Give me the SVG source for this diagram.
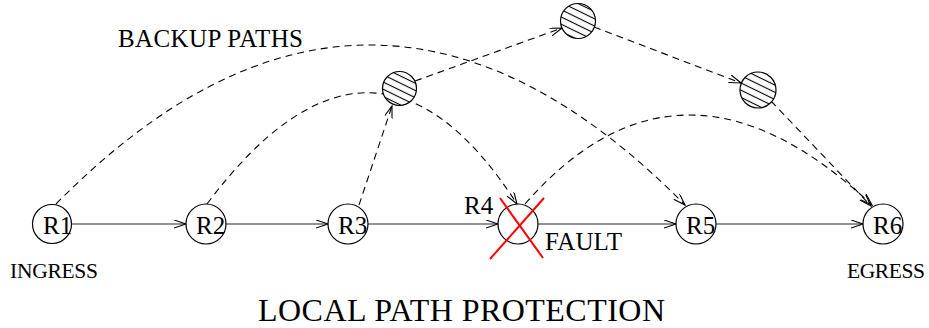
<svg xmlns="http://www.w3.org/2000/svg" width="929" height="328" viewBox="0 0 929 328">
<style>
.node{fill:#fff;stroke:#000;stroke-width:1.2}
.lbl{font-family:"Liberation Serif","Times New Roman",serif;fill:#000}
.solid{fill:none;stroke:#1e2a36;stroke-width:1.2;marker-end:url(#arr)}
.dash{fill:none;stroke:#000;stroke-width:1.1;stroke-dasharray:7 5;marker-end:url(#arr)}
.fault{stroke:#ff0000;stroke-width:2}
</style>
<defs>
<marker id="arr" markerUnits="userSpaceOnUse" markerWidth="14" markerHeight="10" refX="12" refY="4" orient="auto">
<path d="M0,0 L12,4 L0,8" fill="none" stroke="#000" stroke-width="1.1"/>
</marker>
<pattern id="hatch" patternUnits="userSpaceOnUse" width="8" height="6.5" patternTransform="rotate(26)">
<rect width="8" height="6.5" fill="#fff"/>
<line x1="0" y1="3.25" x2="8" y2="3.25" stroke="#000" stroke-width="1.1"/>
</pattern>
</defs>
<rect width="929" height="328" fill="#fff"/>
<g id="connectors">
<line class="solid" x1="71" y1="224" x2="186" y2="224"/>
<line class="solid" x1="226" y1="224" x2="328" y2="224"/>
<line class="solid" x1="368" y1="224" x2="498" y2="224"/>
<line class="solid" x1="538" y1="224" x2="676" y2="224"/>
<line class="solid" x1="716" y1="224" x2="863" y2="224"/>
<path class="dash" d="M56,204 Q370,-114.5 685,205"/>
<path class="dash" d="M207,204 Q373.5,-18.5 517,204"/>
<path class="dash" d="M525,204 Q681,25.5 872,205"/>
<line class="dash" x1="359" y1="205" x2="392" y2="106"/>
<line class="dash" x1="415" y1="81" x2="562" y2="28"/>
<line class="dash" x1="594" y1="27" x2="741" y2="83"/>
<line class="dash" x1="771" y1="101" x2="871" y2="206"/>
</g>
<g id="H1"><circle class="node" cx="399.5" cy="88.5" r="17" style="fill:url(#hatch)"/></g>
<g id="H2"><circle class="node" cx="578" cy="21" r="17.5" style="fill:url(#hatch)"/></g>
<g id="H3"><circle class="node" cx="758" cy="90" r="18" style="fill:url(#hatch)"/></g>
<g id="R1"><circle class="node" cx="52" cy="224" r="19.5"/><text class="lbl" x="43" y="233.5" font-size="25">R1</text></g>
<g id="R2"><circle class="node" cx="206" cy="224" r="20"/><text class="lbl" x="196" y="233.5" font-size="25">R2</text></g>
<g id="R3"><circle class="node" cx="348" cy="224" r="20"/><text class="lbl" x="338" y="233.5" font-size="25">R3</text></g>
<g id="R4"><circle class="node" cx="518" cy="224" r="20"/><text class="lbl" x="464" y="214" font-size="25">R4</text>
<line class="fault" x1="500" y1="198" x2="543" y2="258"/><line class="fault" x1="544" y1="198" x2="490" y2="259"/></g>
<g id="R5"><circle class="node" cx="696" cy="224" r="20"/><text class="lbl" x="686" y="233.5" font-size="25">R5</text></g>
<g id="R6"><circle class="node" cx="883" cy="224" r="20"/><text class="lbl" x="873" y="233.5" font-size="25">R6</text></g>
<text class="lbl" x="545" y="250" font-size="25" textLength="77">FAULT</text>
<text class="lbl" x="10" y="278" font-size="21.5" textLength="88">INGRESS</text>
<text class="lbl" x="847" y="278" font-size="21.5" textLength="78">EGRESS</text>
<text class="lbl" x="118" y="47" font-size="25" textLength="185">BACKUP PATHS</text>
<text class="lbl" x="258" y="321" font-size="32" textLength="407">LOCAL PATH PROTECTION</text>
</svg>
